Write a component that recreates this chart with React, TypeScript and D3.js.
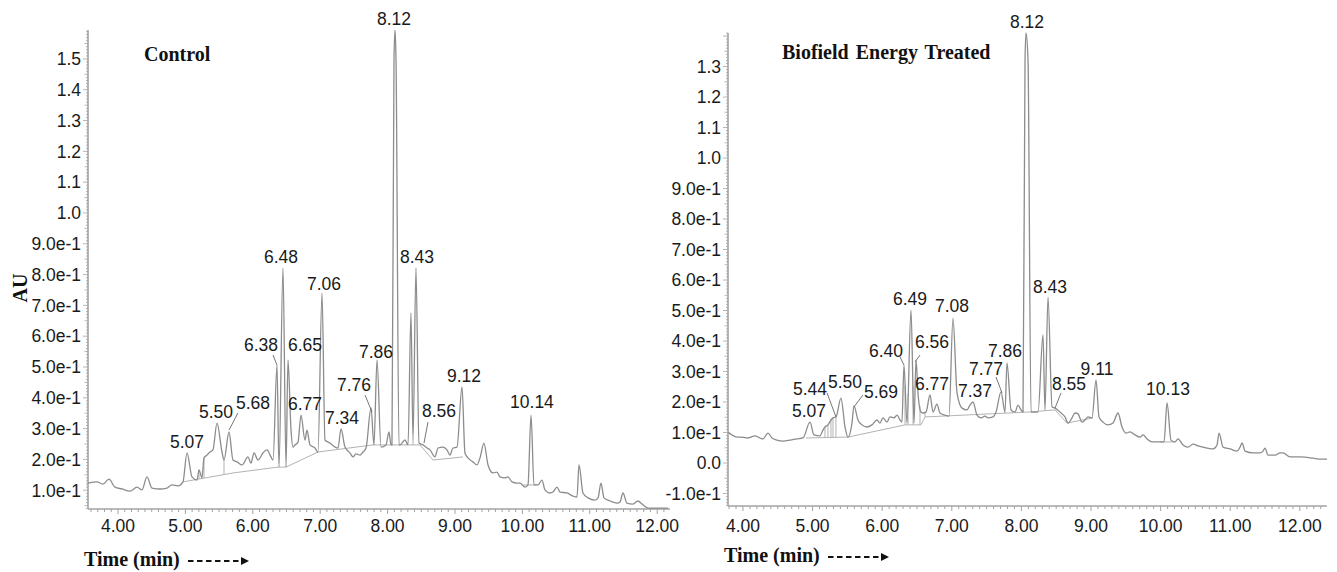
import React from 'react';
import * as d3 from 'd3';

type Pt = [number, number];
type Peak = [string, number, number];
type Leader = [number, number, number, number];

// Control chromatogram (time min, AU)
const controlTrace: Pt[] = [
  [3.555, 0.123], [3.688, 0.127], [3.777, 0.12], [3.866, 0.136], [3.955, 0.11], [4.059, 0.104],
  [4.178, 0.097], [4.282, 0.11], [4.356, 0.101], [4.43, 0.143], [4.504, 0.107], [4.623, 0.104],
  [4.727, 0.107], [4.801, 0.117], [4.89, 0.114], [4.964, 0.127], [5.024, 0.221], [5.098, 0.143],
  [5.172, 0.133], [5.202, 0.166], [5.246, 0.14], [5.276, 0.205], [5.32, 0.214], [5.365, 0.224],
  [5.409, 0.231], [5.469, 0.318], [5.543, 0.224], [5.573, 0.198], [5.647, 0.289], [5.706, 0.198],
  [5.766, 0.192], [5.84, 0.182], [5.929, 0.208], [5.973, 0.188], [6.018, 0.221], [6.077, 0.198],
  [6.151, 0.221], [6.211, 0.231], [6.27, 0.208], [6.3, 0.198], [6.359, 0.506], [6.389, 0.175],
  [6.448, 0.821], [6.493, 0.175], [6.522, 0.523], [6.567, 0.295], [6.596, 0.24], [6.626, 0.247],
  [6.671, 0.256], [6.715, 0.344], [6.774, 0.263], [6.804, 0.295], [6.849, 0.247], [6.923, 0.237],
  [6.967, 0.224], [7.027, 0.74], [7.071, 0.263], [7.145, 0.253], [7.22, 0.24], [7.264, 0.237],
  [7.309, 0.299], [7.368, 0.24], [7.442, 0.221], [7.487, 0.208], [7.531, 0.218], [7.591, 0.214],
  [7.635, 0.224], [7.68, 0.237], [7.754, 0.367], [7.798, 0.247], [7.843, 0.523], [7.902, 0.24],
  [7.976, 0.247], [8.021, 0.289], [8.05, 0.247], [8.065, 0.247], [8.095, 1.497], [8.11, 1.594],
  [8.125, 1.497], [8.169, 0.247], [8.184, 0.247], [8.258, 0.263], [8.303, 0.247], [8.347, 0.675],
  [8.377, 0.263], [8.421, 0.821], [8.466, 0.253], [8.525, 0.247], [8.585, 0.237], [8.629, 0.231],
  [8.703, 0.208], [8.748, 0.237], [8.822, 0.24], [8.881, 0.231], [8.926, 0.214], [8.97, 0.237],
  [9.03, 0.24], [9.104, 0.435], [9.148, 0.221], [9.193, 0.205], [9.267, 0.192], [9.326, 0.182],
  [9.371, 0.205], [9.43, 0.253], [9.49, 0.182], [9.564, 0.156], [9.623, 0.159], [9.668, 0.143],
  [9.742, 0.14], [9.786, 0.143], [9.846, 0.127], [9.92, 0.123], [9.964, 0.123], [10.039, 0.11],
  [10.083, 0.117], [10.128, 0.344], [10.172, 0.117], [10.231, 0.117], [10.291, 0.133], [10.335, 0.101],
  [10.409, 0.091], [10.454, 0.094], [10.513, 0.11], [10.558, 0.094], [10.662, 0.091], [10.751, 0.081],
  [10.81, 0.078], [10.84, 0.182], [10.899, 0.091], [10.973, 0.075], [11.077, 0.068], [11.122, 0.075],
  [11.166, 0.123], [11.211, 0.075], [11.3, 0.065], [11.404, 0.058], [11.448, 0.062], [11.493, 0.091],
  [11.552, 0.058], [11.641, 0.055], [11.715, 0.065], [11.774, 0.055], [11.864, 0.042], [11.967, 0.042],
  [12.071, 0.042], [12.16, 0.042],
];
const controlBaselines: Pt[][] = [
  [[4.964, 0.127], [5.706, 0.156], [6.374, 0.175], [6.493, 0.175], [6.967, 0.224], [7.783, 0.247],
   [8.481, 0.247], [8.674, 0.198], [9.119, 0.208]],
  [[10.009, 0.117], [10.217, 0.117]],
];
const controlDrops = [5.202, 5.276, 5.573, 6.389, 6.493, 6.967, 8.065, 8.169, 8.303, 8.377];
const controlPeaks: Peak[] = [
  ['5.07', 5.024, 0.237], ['5.50', 5.454, 0.334], ['5.68', 6.003, 0.364], ['6.38', 6.122, 0.552],
  ['6.48', 6.418, 0.838], ['6.65', 6.774, 0.552], ['6.77', 6.774, 0.36], ['7.06', 7.056, 0.75],
  ['7.34', 7.323, 0.315], ['7.76', 7.501, 0.422], ['7.86', 7.828, 0.529], ['8.12', 8.095, 1.61],
  ['8.43', 8.436, 0.838], ['8.56', 8.763, 0.338], ['9.12', 9.134, 0.451], ['10.14', 10.142, 0.367],
];
const controlLeaders: Leader[] = [
  [5.78, 0.351, 5.647, 0.295], [6.3, 0.539, 6.359, 0.506], [7.665, 0.409, 7.769, 0.354],
  [8.599, 0.321, 8.54, 0.253],
];

// Biofield Energy Treated chromatogram
const treatedTrace: Pt[] = [
  [3.785, 0.102], [3.842, 0.092], [3.914, 0.085], [3.986, 0.085], [4.072, 0.082], [4.172, 0.089],
  [4.244, 0.082], [4.287, 0.079], [4.359, 0.098], [4.417, 0.082], [4.489, 0.075], [4.575, 0.072],
  [4.675, 0.075], [4.776, 0.079], [4.862, 0.082], [4.963, 0.134], [5.02, 0.092], [5.106, 0.089],
  [5.149, 0.108], [5.178, 0.118], [5.221, 0.125], [5.264, 0.141], [5.293, 0.148], [5.336, 0.151],
  [5.408, 0.213], [5.466, 0.118], [5.509, 0.085], [5.566, 0.131], [5.595, 0.187], [5.652, 0.141],
  [5.71, 0.125], [5.782, 0.118], [5.853, 0.125], [5.925, 0.141], [5.968, 0.131], [6.011, 0.148],
  [6.069, 0.134], [6.112, 0.151], [6.17, 0.148], [6.213, 0.157], [6.256, 0.141], [6.284, 0.134],
  [6.313, 0.321], [6.356, 0.131], [6.414, 0.502], [6.457, 0.131], [6.486, 0.338], [6.514, 0.23],
  [6.557, 0.167], [6.586, 0.164], [6.629, 0.167], [6.687, 0.223], [6.73, 0.167], [6.787, 0.193],
  [6.83, 0.164], [6.902, 0.157], [6.96, 0.154], [7.017, 0.475], [7.075, 0.23], [7.147, 0.18],
  [7.218, 0.174], [7.261, 0.19], [7.305, 0.2], [7.362, 0.157], [7.42, 0.148], [7.477, 0.154],
  [7.52, 0.148], [7.592, 0.151], [7.635, 0.167], [7.707, 0.233], [7.764, 0.167], [7.793, 0.328],
  [7.851, 0.174], [7.908, 0.167], [7.951, 0.19], [7.994, 0.174], [8.023, 0.167], [8.052, 1.321],
  [8.066, 1.41], [8.095, 1.321], [8.138, 0.167], [8.195, 0.167], [8.239, 0.167], [8.31, 0.42],
  [8.339, 0.174], [8.382, 0.544], [8.44, 0.184], [8.483, 0.18], [8.555, 0.167], [8.626, 0.151],
  [8.67, 0.131], [8.727, 0.148], [8.77, 0.164], [8.813, 0.161], [8.871, 0.134], [8.914, 0.141],
  [8.957, 0.151], [9.014, 0.148], [9.072, 0.272], [9.115, 0.151], [9.172, 0.134], [9.244, 0.125],
  [9.316, 0.131], [9.388, 0.164], [9.445, 0.118], [9.503, 0.098], [9.56, 0.102], [9.632, 0.092],
  [9.704, 0.085], [9.747, 0.092], [9.805, 0.079], [9.891, 0.069], [9.991, 0.069], [10.049, 0.069],
  [10.092, 0.197], [10.149, 0.075], [10.207, 0.069], [10.25, 0.079], [10.322, 0.059], [10.394, 0.052],
  [10.466, 0.062], [10.537, 0.056], [10.667, 0.049], [10.753, 0.046], [10.81, 0.059], [10.839, 0.098],
  [10.897, 0.052], [10.997, 0.046], [11.098, 0.039], [11.141, 0.052], [11.17, 0.066], [11.213, 0.039],
  [11.328, 0.033], [11.428, 0.033], [11.471, 0.039], [11.5, 0.049], [11.543, 0.026], [11.644, 0.026],
  [11.716, 0.033], [11.759, 0.033], [11.859, 0.02], [12.003, 0.02], [12.19, 0.016], [12.29, 0.013],
  [12.391, 0.013],
];
const treatedBaselines: Pt[][] = [
  [[4.905, 0.082], [5.509, 0.085], [6.328, 0.125], [6.557, 0.125], [6.615, 0.151], [8.095, 0.167],
   [8.483, 0.174], [8.655, 0.131], [9.029, 0.148]],
  [[9.991, 0.069], [10.207, 0.069]],
];
const treatedDrops = [5.178, 5.221, 5.264, 5.293, 5.336, 5.509, 6.328, 6.371, 6.443, 6.543, 6.615,
  7.764, 8.023, 8.138, 8.339];
const treatedPeaks: Peak[] = [
  ['5.07', 4.948, 0.151], ['5.44', 4.963, 0.223], ['5.50', 5.466, 0.246], ['5.69', 5.983, 0.213],
  ['6.40', 6.055, 0.348], ['6.49', 6.399, 0.518], ['6.56', 6.716, 0.377], ['6.77', 6.716, 0.239],
  ['7.08', 7.003, 0.495], ['7.37', 7.333, 0.216], ['7.77', 7.491, 0.289], ['7.86', 7.764, 0.348],
  ['8.12', 8.08, 1.426], ['8.43', 8.411, 0.557], ['8.55', 8.684, 0.239], ['9.11', 9.086, 0.289],
  ['10.13', 10.106, 0.223],
];
const treatedLeaders: Leader[] = [
  [5.207, 0.23, 5.336, 0.151], [5.724, 0.223, 5.595, 0.184], [6.256, 0.348, 6.313, 0.321],
  [6.543, 0.354, 6.471, 0.331], [7.635, 0.282, 7.721, 0.23], [8.569, 0.23, 8.483, 0.18],
];

const xTicks = [4, 5, 6, 7, 8, 9, 10, 11, 12];
const xTickLabels = ['4.00', '5.00', '6.00', '7.00', '8.00', '9.00', '10.00', '11.00', '12.00'];
const controlYTicks = [0.1, 0.2, 0.3, 0.4, 0.5, 0.6, 0.7, 0.8, 0.9, 1.0, 1.1, 1.2, 1.3, 1.4, 1.5];
const controlYLabels = ['1.0e-1', '2.0e-1', '3.0e-1', '4.0e-1', '5.0e-1', '6.0e-1', '7.0e-1', '8.0e-1',
  '9.0e-1', '1.0', '1.1', '1.2', '1.3', '1.4', '1.5'];
const treatedYTicks = [-0.1, 0, 0.1, 0.2, 0.3, 0.4, 0.5, 0.6, 0.7, 0.8, 0.9, 1.0, 1.1, 1.2, 1.3];
const treatedYLabels = ['-1.0e-1', '0.0', '1.0e-1', '2.0e-1', '3.0e-1', '4.0e-1', '5.0e-1', '6.0e-1',
  '7.0e-1', '8.0e-1', '9.0e-1', '1.0', '1.1', '1.2', '1.3'];

const SANS = '"Liberation Sans", Arial, sans-serif';
const SERIF = '"Liberation Serif", "Times New Roman", serif';
const AXIS = '#a3a3a3';
const TRACE = '#8c8c8c';

function valueAt(s: Pt[], t: number) {
  const i = d3.bisector((d: Pt) => d[0]).left(s, t);
  if (i <= 0) return s[0][1];
  if (i >= s.length) return s[s.length - 1][1];
  const [t0, v0] = s[i - 1];
  const [t1, v1] = s[i];
  return v0 + ((v1 - v0) * (t - t0)) / (t1 - t0);
}

function Panel(props: any) {
  const { trace, baselines, drops, peaks, leaders, yTicks, yLabels, title, titleX, titleY,
    box, xDomain, yDomain, timeY, showAU } = props;
  const [left, right, top, bottom] = box;
  const x = d3.scaleLinear().domain(xDomain).range([left, right]);
  const y = d3.scaleLinear().domain(yDomain).range([bottom, top]);
  const line = d3.line<Pt>().x(d => x(d[0])).y(d => y(d[1]));
  const smooth = d3.line<Pt>().x(d => x(d[0])).y(d => y(d[1])).curve(d3.curveMonotoneX);

  const minorX = d3.range(Math.ceil(xDomain[0] * 10), Math.floor(xDomain[1] * 10) + 1);
  const minorY = d3.range(Math.ceil(yDomain[0] * 100), Math.floor(yDomain[1] * 100) + 1);

  const baseAt = (t: number) => {
    const b = baselines.find((s: Pt[]) => t >= s[0][0] && t <= s[s.length - 1][0]);
    return b ? valueAt(b, t) : valueAt(trace, t);
  };

  return (
    <g>
      {/* axes */}
      <line x1={left} x2={left} y1={top} y2={bottom} stroke={AXIS} strokeWidth={1.6} />
      <line x1={left} x2={right} y1={bottom} y2={bottom} stroke={AXIS} strokeWidth={1.6} />
      {minorY.map(i => (
        <line key={'my' + i} x1={left} x2={left - (i % 10 === 0 ? 5 : i % 5 === 0 ? 3.5 : 2)}
          y1={y(i / 100)} y2={y(i / 100)} stroke={AXIS} strokeWidth={0.8} />
      ))}
      {minorX.map(i => (
        <line key={'mx' + i} x1={x(i / 10)} x2={x(i / 10)} y1={bottom}
          y2={bottom + (i % 10 === 0 ? 5 : 3)} stroke={AXIS} strokeWidth={1} />
      ))}
      {yTicks.map((v: number, i: number) => (
        <text key={'yt' + i} x={left - 7} y={y(v)} dy="0.36em" textAnchor="end"
          fontFamily={SANS} fontSize={17.5} fill="#1a1a1a">{yLabels[i]}</text>
      ))}
      {xTicks.map((v, i) => (
        <text key={'xt' + i} x={x(v)} y={532} textAnchor="middle"
          fontFamily={SANS} fontSize={17.5} fill="#1a1a1a">{xTickLabels[i]}</text>
      ))}

      {/* integration baselines and drop lines */}
      {baselines.map((b: Pt[], i: number) => (
        <path key={'b' + i} d={line(b) || ''} fill="none" stroke="#b3b3b3" strokeWidth={1} />
      ))}
      {drops.map((t: number, i: number) => (
        <line key={'d' + i} x1={x(t)} x2={x(t)} y1={y(baseAt(t))} y2={y(valueAt(trace, t))}
          stroke="#b3b3b3" strokeWidth={1} />
      ))}

      {/* trace */}
      <path d={smooth(trace) || ''} fill="none" stroke={TRACE} strokeWidth={1.3} strokeLinejoin="round" />

      {/* peak labels */}
      {leaders.map((l: Leader, i: number) => (
        <line key={'l' + i} x1={x(l[0])} y1={y(l[1])} x2={x(l[2])} y2={y(l[3])}
          stroke="#666" strokeWidth={0.9} />
      ))}
      {peaks.map((p: Peak, i: number) => (
        <text key={'p' + i} x={x(p[1])} y={y(p[2])} textAnchor="middle"
          fontFamily={SANS} fontSize={17.5} fill="#1a1a1a">{p[0]}</text>
      ))}

      <text x={titleX} y={titleY} fontFamily={SERIF} fontWeight="bold" fontSize={20}
        wordSpacing={2} fill="#111">{title}</text>

      {/* time label with dashed arrow */}
      <text x={left - 4} y={timeY} fontFamily={SERIF} fontWeight="bold" fontSize={20} fill="#111">
        Time (min)
      </text>
      <line x1={left + 100} x2={left + 154} y1={timeY - 5} y2={timeY - 5} stroke="#111"
        strokeWidth={1.8} strokeDasharray="5.5 3.5" />
      <path d={`M${left + 153},${timeY - 9} L${left + 161},${timeY - 5} L${left + 153},${timeY - 1} Z`}
        fill="#111" />

      {showAU && (
        <text transform={`translate(27,288) rotate(-90)`} textAnchor="middle" fontFamily={SERIF}
          fontWeight="bold" fontSize={20} fill="#111">AU</text>
      )}
    </g>
  );
}

export default function App() {
  return (
    <svg width={1337} height={572} style={{ position: 'absolute', left: 0, top: 0, background: '#fff' }}>
      <Panel trace={controlTrace} baselines={controlBaselines} drops={controlDrops}
        peaks={controlPeaks} leaders={controlLeaders} yTicks={controlYTicks} yLabels={controlYLabels}
        title="Control" titleX={144} titleY={61} box={[88, 670, 30, 509]}
        xDomain={[3.555, 12.19]} yDomain={[0.039, 1.594]} timeY={566} showAU />
      <Panel trace={treatedTrace} baselines={treatedBaselines} drops={treatedDrops}
        peaks={treatedPeaks} leaders={treatedLeaders} yTicks={treatedYTicks} yLabels={treatedYLabels}
        title="Biofield Energy Treated" titleX={782} titleY={59} box={[728, 1327, 33, 506]}
        xDomain={[3.785, 12.39]} yDomain={[-0.141, 1.41]} timeY={562} />
    </svg>
  );
}
